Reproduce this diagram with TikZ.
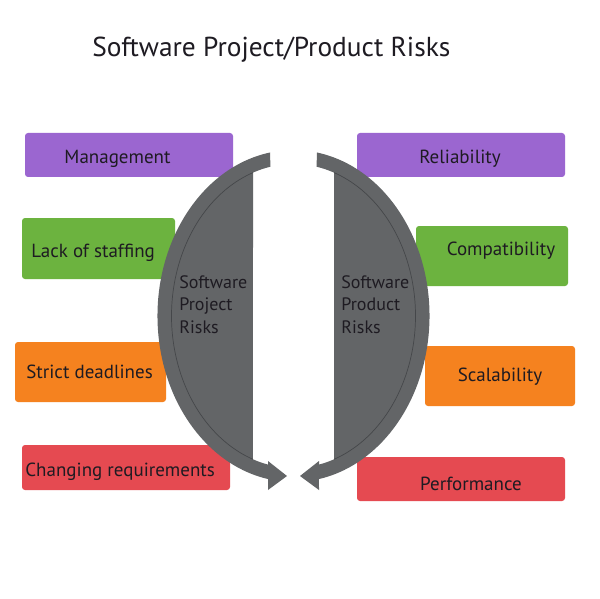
\documentclass[tikz,border=0pt]{standalone}
\usepackage{fontspec}
\setmainfont{PT Sans}
\definecolor{cpurple}{HTML}{9B66D0}
\definecolor{cgreen}{HTML}{6CB33F}
\definecolor{corange}{HTML}{F5821F}
\definecolor{cred}{HTML}{E54A51}
\definecolor{cgray}{HTML}{636567}
\definecolor{cline}{HTML}{45474A}
\definecolor{ctext}{HTML}{1E1B22}
\tikzset{
  boxshape/.style={rounded corners=1.5pt},
  boxtext/.style={inner sep=0pt, text=ctext, font=\fontsize{9.5}{11.5}\selectfont},
  titletext/.style={inner sep=0pt, text=ctext, font=\fontsize{13.7}{16}\selectfont},
  elltext/.style={inner sep=0pt, anchor=base west, text=ctext, font=\fontsize{9}{11}\selectfont},
  innerline/.style={draw=cline, line width=0.35pt},
}
\begin{document}
\begin{tikzpicture}[x=0.5pt,y=-0.5pt]
\fill[white] (0,0) rectangle (600,599);
\useasboundingbox (0,0) rectangle (600,599);

% title
\node[titletext, anchor=base west] (title) at (92,56.7) {Software Project/Product Risks};

% coloured boxes
\fill[cpurple, boxshape] (25,133) rectangle (233,177);
\fill[cgreen,  boxshape] (22,218) rectangle (175,279);
\fill[corange, boxshape] (15,342) rectangle (166,402);
\fill[cred,    boxshape] (22,445) rectangle (230,490);
\fill[cpurple, boxshape] (357,133) rectangle (565,177);
\fill[cgreen,  boxshape] (416,226) rectangle (568,286);
\fill[corange, boxshape] (425,346) rectangle (575,406);
\fill[cred,    boxshape] (357,457) rectangle (565,501);

% two half-ellipse arrows
\foreach \s in {1,-1}{
\begin{scope}[shift={(293.5,316)}, xscale=\s]
  \fill[cgray] (-23.5,-163.5)
     arc[start angle=260.05, end angle=100.8, x radius=136, y radius=166]
     -- (-25.5,174) -- (-6.5,160) -- (-25.5,145) -- (-25.5,148.6)
     arc[start angle=102.07, end angle=109.4, x radius=122, y radius=152]
     -- (-40.5,-143.4)
     arc[start angle=250.6, end angle=259.1, x radius=122, y radius=152]
     -- cycle;
  \draw[innerline] (-40.5,-143.4)
     arc[start angle=250.6, end angle=109.4, x radius=122, y radius=152];
\end{scope}
}

% texts in ellipse halves
\node[elltext] (pl1) at (179,288) {Software};
\node[elltext] (pl2) at (179,310.5) {Project};
\node[elltext] (pl3) at (179,333) {Risks};
\node[elltext] (pr1) at (341,288) {Software};
\node[elltext] (pr2) at (341,310.5) {Product};
\node[elltext] (pr3) at (341,333) {Risks};

% box texts
\node[boxtext, anchor=base] (mgmt) at (117.5,163.5) {Management};
\node[boxtext, anchor=base west] (staff) at (31,257) {Lack of staffing};
\node[boxtext, anchor=base west] (dead) at (26,378) {Strict deadlines};
\node[boxtext, anchor=base west] (req) at (25,476) {Changing requirements};
\node[boxtext, anchor=base] (rel) at (460,163.5) {Reliability};
\node[boxtext, anchor=base] (comp) at (501,256) {Compatibility};
\node[boxtext, anchor=base] (scal) at (500,381.5) {Scalability};
\node[boxtext, anchor=base] (perf) at (471,490) {Performance};
\end{tikzpicture}
\end{document}
